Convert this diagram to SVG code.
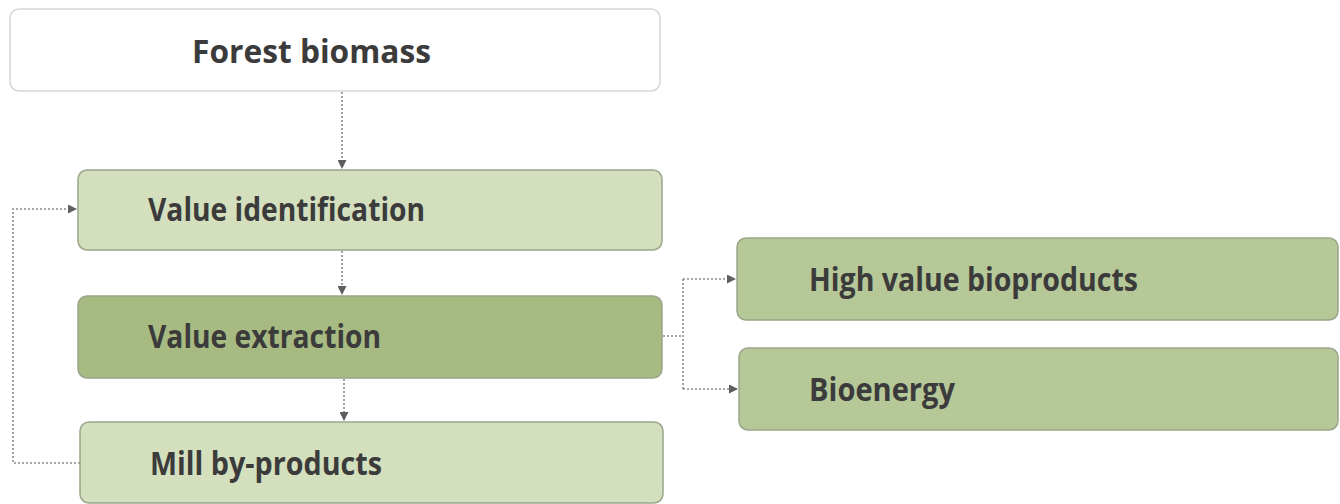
<svg xmlns="http://www.w3.org/2000/svg" width="1340" height="504" viewBox="0 0 1340 504">
<style>
.box{stroke:#9aa58a;stroke-width:1.5}
.lbl{font-family:"Open Sans","Liberation Sans",sans-serif;font-weight:bold;font-size:32px;fill:#3b3b3b}
.con{fill:none;stroke:#8a8a8a;stroke-width:1.6;stroke-dasharray:2 2}
</style>
<defs>
<marker id="ah" markerWidth="9" markerHeight="9" refX="8" refY="4.5" orient="auto" markerUnits="userSpaceOnUse">
<path d="M0,0 L9,4.5 L0,9 Z" fill="#5e5e5e"/>
</marker>
</defs>
<rect width="1340" height="504" fill="#ffffff"/>
<g id="connectors">
<path class="con" d="M342,92 V168" marker-end="url(#ah)"/>
<path class="con" d="M342,251 V294" marker-end="url(#ah)"/>
<path class="con" d="M344,379 V420" marker-end="url(#ah)"/>
<path class="con" d="M80,463 H13 V209 H76" marker-end="url(#ah)"/>
<path class="con" d="M663,336 H683"/>
<path class="con" d="M683,279 V389"/>
<path class="con" d="M683,279 H735" marker-end="url(#ah)"/>
<path class="con" d="M683,389 H737" marker-end="url(#ah)"/>
</g>
<g id="forest-biomass">
<rect x="10" y="9" width="650" height="82" rx="9" fill="#ffffff" stroke="#d8d8d8" stroke-width="1.5"/>
<text class="lbl" x="192" y="63" textLength="239" lengthAdjust="spacingAndGlyphs">Forest biomass</text>
</g>
<g id="value-identification">
<rect class="box" x="78" y="170" width="584" height="80" rx="9" fill="#d3dfbd"/>
<text class="lbl" x="148" y="221" textLength="277" lengthAdjust="spacingAndGlyphs">Value identification</text>
</g>
<g id="value-extraction">
<rect class="box" x="78" y="296" width="584" height="82" rx="9" fill="#a6ba82"/>
<text class="lbl" x="148" y="348" textLength="233" lengthAdjust="spacingAndGlyphs">Value extraction</text>
</g>
<g id="mill-by-products">
<rect class="box" x="80" y="422" width="583" height="81" rx="9" fill="#d3dfbd"/>
<text class="lbl" x="150" y="475" textLength="232" lengthAdjust="spacingAndGlyphs">Mill by-products</text>
</g>
<g id="high-value-bioproducts">
<rect class="box" x="737" y="238" width="601" height="82" rx="9" fill="#b6c898"/>
<text class="lbl" x="809" y="291" textLength="329" lengthAdjust="spacingAndGlyphs">High value bioproducts</text>
</g>
<g id="bioenergy">
<rect class="box" x="739" y="348" width="599" height="82" rx="9" fill="#b6c898"/>
<text class="lbl" x="809" y="401" textLength="146" lengthAdjust="spacingAndGlyphs">Bioenergy</text>
</g>
</svg>
